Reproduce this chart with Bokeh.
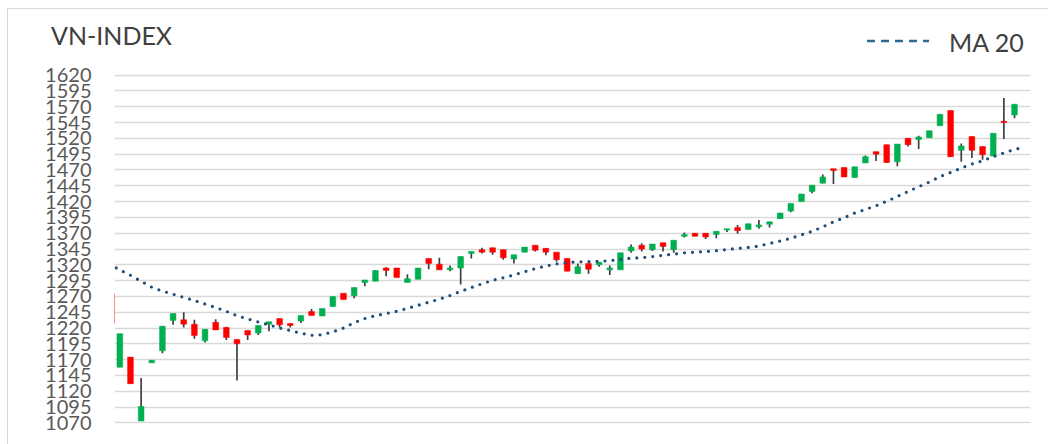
from bokeh.plotting import figure
from bokeh.layouts import column
from bokeh.models import Range1d, FixedTicker, ColumnDataSource, Div
from bokeh.embed import file_html
from bokeh.resources import INLINE

# ---- data ----
opens = [1274, 1158, 1174, 1073, 1165, 1184, 1232, 1233, 1226, 1200,
         1229, 1221, 1202, 1216, 1212, 1226, 1235, 1227, 1231, 1246,
         1239, 1254, 1275, 1271, 1292, 1294, 1315, 1315, 1292, 1297,
         1330, 1321, 1312, 1315, 1338, 1344, 1347, 1344, 1329, 1340,
         1351, 1346, 1340, 1330, 1306, 1322, 1320, 1312, 1312, 1342,
         1351, 1344, 1355, 1344, 1365, 1370, 1370, 1368, 1375, 1379,
         1376, 1380, 1384, 1393, 1405, 1420, 1436, 1449, 1472, 1474,
         1458, 1481, 1499, 1510, 1483, 1520, 1518, 1521, 1540, 1564,
         1501, 1523, 1507, 1492, 1547, 1557]
highs = [1274, 1211, 1174, 1141, 1169, 1223, 1243, 1245, 1233, 1218,
         1234, 1222, 1202, 1216, 1224, 1230, 1235, 1227, 1240, 1250,
         1251, 1270, 1275, 1284, 1296, 1311, 1316, 1315, 1305, 1315,
         1330, 1331, 1319, 1333, 1341, 1347, 1347, 1344, 1336, 1348,
         1351, 1346, 1340, 1330, 1322, 1322, 1324, 1319, 1339, 1352,
         1354, 1353, 1355, 1359, 1371, 1370, 1370, 1373, 1377, 1383,
         1385, 1391, 1388, 1402, 1417, 1432, 1446, 1463, 1472, 1474,
         1475, 1493, 1499, 1510, 1511, 1520, 1524, 1532, 1558, 1564,
         1512, 1523, 1507, 1528, 1584, 1574]
lows = [1228, 1158, 1132, 1073, 1165, 1180, 1225, 1221, 1203, 1197,
        1217, 1201, 1137, 1201, 1209, 1215, 1221, 1221, 1228, 1240,
        1239, 1254, 1265, 1267, 1286, 1294, 1302, 1300, 1292, 1297,
        1313, 1312, 1310, 1289, 1330, 1338, 1336, 1328, 1322, 1340,
        1341, 1335, 1325, 1310, 1306, 1306, 1317, 1304, 1312, 1339,
        1341, 1342, 1341, 1339, 1363, 1365, 1361, 1362, 1372, 1369,
        1376, 1377, 1379, 1393, 1403, 1420, 1433, 1449, 1448, 1459,
        1458, 1481, 1484, 1481, 1476, 1507, 1503, 1521, 1540, 1491,
        1483, 1489, 1486, 1492, 1519, 1552]
closes = [1228, 1211, 1132, 1096, 1169, 1223, 1243, 1226, 1208, 1218,
          1217, 1205, 1195, 1209, 1224, 1230, 1225, 1224, 1240, 1240,
          1251, 1270, 1265, 1284, 1296, 1311, 1311, 1300, 1298, 1315,
          1322, 1312, 1315, 1333, 1341, 1340, 1340, 1331, 1336, 1348,
          1343, 1340, 1328, 1310, 1317, 1313, 1324, 1315, 1339, 1348,
          1345, 1353, 1349, 1359, 1368, 1365, 1364, 1373, 1377, 1374,
          1385, 1383, 1388, 1402, 1417, 1432, 1446, 1459, 1469, 1459,
          1475, 1491, 1495, 1482, 1511, 1510, 1522, 1532, 1558, 1491,
          1508, 1501, 1494, 1528, 1545, 1574]
ma20 = [1321, 1312, 1303.5, 1294, 1284.5, 1278.5, 1273.5, 1268.5, 1263.5, 1258,
        1252.5, 1246.5, 1239.5, 1234.5, 1229.5, 1225, 1220, 1216, 1212, 1208.5,
        1209.5, 1214, 1220, 1228.5, 1235, 1239.5, 1243, 1246.5, 1251, 1256,
        1261, 1265.5, 1271.5, 1278, 1284, 1290, 1295.5, 1299.5, 1304, 1309,
        1314, 1318, 1321.5, 1323.6, 1324.5, 1325, 1325.5, 1326.5, 1328.5, 1330.5,
        1331.3, 1333, 1335, 1336.8, 1339, 1340, 1341, 1342.3, 1344.2, 1346,
        1347.5, 1349.5, 1353.8, 1357.5, 1362, 1367.5, 1373, 1380, 1388, 1394.5,
        1402, 1407.5, 1413.5, 1420.5, 1428, 1436, 1443.5, 1451, 1459.5, 1466,
        1473, 1479.5, 1484.5, 1491, 1497, 1502.5, 1506]
y_ticks = [1070, 1095, 1120, 1145, 1170, 1195, 1220, 1245, 1270, 1295, 1320, 1345,
           1370, 1395, 1420, 1445, 1470, 1495, 1520, 1545, 1570, 1595, 1620]
title_text = "VN-INDEX"
ma_label = "MA 20"

UP = "#00B050"
DOWN = "#FF0000"
WICK = "#404040"
MA_COLOR = "#1F4E79"
LEGEND_DASH = "#2B6A94"
TEXT = "#404040"
BORDER = "#d9d9d9"

W = 1040
HEADER_H = 51
MAIN_H = 384

# ---- header: title and legend (real text) ----
header_html = (
    f'<div style="position:relative;width:{W}px;height:{HEADER_H}px;'
    f'font-family:Lato;font-size:25px;line-height:25px;color:{TEXT};white-space:nowrap;">'
    f'<span style="position:absolute;left:43px;top:14px;">{title_text}</span>'
    f'<svg style="position:absolute;left:859px;top:29px;" width="62" height="6">'
    f'<line x1="0" y1="3" x2="62" y2="3" stroke="{LEGEND_DASH}" stroke-width="2.6" '
    f'stroke-dasharray="8 6"/></svg>'
    f'<span style="position:absolute;left:941px;top:21px;">{ma_label}</span>'
    f'</div>'
)
header = Div(text=header_html, width=W, height=HEADER_H, margin=0)

# ---- main chart ----
idx = list(range(len(opens)))
ma_idx = list(range(len(ma20)))
src = ColumnDataSource(dict(
    x=idx,
    top=[max(o, c) for o, c in zip(opens, closes)],
    bottom=[min(o, c) for o, c in zip(opens, closes)],
    high=highs,
    low=lows,
    color=[UP if c >= o else DOWN for o, c in zip(opens, closes)],
))

p = figure(width=W, height=MAIN_H, output_backend="svg", toolbar_location=None,
           x_range=Range1d(0.5, 86.5), y_range=Range1d(1069, 1621),
           x_axis_location=None, min_border_left=106, min_border_right=18,
           min_border_top=14, min_border_bottom=21, margin=0)
p.title.visible = False
p.outline_line_color = None
p.background_fill_color = "white"
p.border_fill_color = "white"

p.xgrid.grid_line_color = None
p.yaxis.ticker = FixedTicker(ticks=y_ticks)
p.ygrid.ticker = FixedTicker(ticks=y_ticks)
p.ygrid.grid_line_color = BORDER
p.ygrid.grid_line_width = 1.6
p.yaxis.axis_line_color = None
p.yaxis.major_tick_line_color = None
p.yaxis.minor_tick_line_color = None
p.yaxis.major_tick_in = 0
p.yaxis.major_tick_out = 0
p.yaxis.major_label_standoff = 23
p.yaxis.major_label_text_font = "Lato"
p.yaxis.major_label_text_font_size = "20px"
p.yaxis.major_label_text_color = "#595959"

p.segment(x0="x", y0="low", x1="x", y1="high", source=src, line_color=WICK, line_width=1.7)
p.vbar(x="x", width=0.54, top="top", bottom="bottom", source=src,
       fill_color="color", line_color="color", line_width=0.5)

p.line(ma_idx, ma20, line_color=MA_COLOR, line_width=3.2, line_dash="0 8", line_cap="round")

layout = column(header, p, spacing=0,
                styles={"margin-left": "7px", "margin-top": "8px",
                        "border-left": f"1px solid {BORDER}", "border-top": f"1px solid {BORDER}"})
open("out.html", "w").write(file_html(layout, INLINE))
